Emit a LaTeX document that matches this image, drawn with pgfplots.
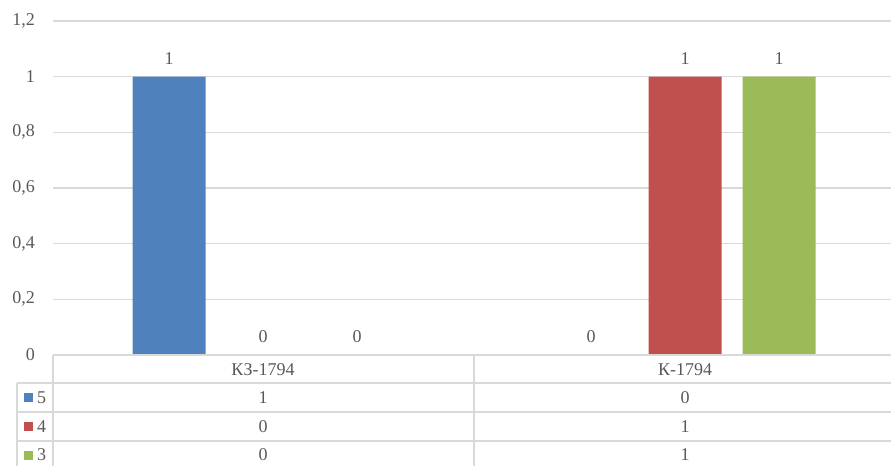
\documentclass[border=0pt]{standalone}
\usepackage{fontspec}
\setmainfont{Liberation Serif}
\usepackage{pgfplots}
\pgfplotsset{compat=1.18}
\definecolor{s5}{HTML}{4F81BD}
\definecolor{s4}{HTML}{C0504D}
\definecolor{s3}{HTML}{9BBB59}
\definecolor{txt}{HTML}{595959}
\definecolor{grd}{HTML}{D9D9D9}

\begin{document}
\fontsize{18}{21}\selectfont
\begin{tikzpicture}[x=1pt,y=1pt]
\useasboundingbox (0,0) rectangle (891,466);
\begin{axis}[
    at={(53pt,111pt)}, anchor=south west,
    scale only axis, width=838pt, height=334pt,
    xmin=-0.4976, xmax=1.488, ymin=0, ymax=1.2,
    ytick={0,0.2,0.4,0.6,0.8,1,1.2},
    xtick=\empty,
    axis line style={draw=none},
    major tick length=0pt,
    ymajorgrids, grid style={grd, line width=1.6pt},
    yticklabel style={text=txt, anchor=east, inner sep=0pt, xshift=-18pt},
    /pgf/number format/use comma,
    /pgf/number format/assume math mode=true,
    ybar=21pt, bar width=73pt,
    nodes near coords,
    every node near coord/.append style={text=txt, anchor=south, inner sep=0pt, yshift=12pt},
    clip=false,
]
% series 5
\addplot[fill=s5, draw=none] coordinates {(0,1) (1,0)};
% series 4
\addplot[fill=s4, draw=none] coordinates {(0,0) (1,1)};
% series 3
\addplot[fill=s3, draw=none] coordinates {(0,0) (1,1)};
\end{axis}

% data table under the axis
\begin{scope}[grd, line width=1.6pt]
\draw (53,111) -- (891,111);
\draw (17,83) -- (891,83);
\draw (17,54) -- (891,54);
\draw (17,25) -- (891,25);
\draw (17,83) -- (17,0);
\draw (53,111) -- (53,0);
\draw (474,111) -- (474,0);
\end{scope}
\begin{scope}[every node/.style={text=txt, inner sep=0pt}]
\node at (263,96) {КЗ-1794};
\node at (685,96) {К-1794};
\node at (263,68) {1};  \node at (685,68) {0};
\node at (263,39) {0};  \node at (685,39) {1};
\node at (263,11) {0};  \node at (685,11) {1};
\fill[s5] (24,64) rectangle (33,73);
\fill[s4] (24,35) rectangle (33,44);
\fill[s3] (24,6) rectangle (33,15);
\node[anchor=west] at (37,68) {5};
\node[anchor=west] at (37,39) {4};
\node[anchor=west] at (37,11) {3};
\end{scope}
\end{tikzpicture}
\end{document}
